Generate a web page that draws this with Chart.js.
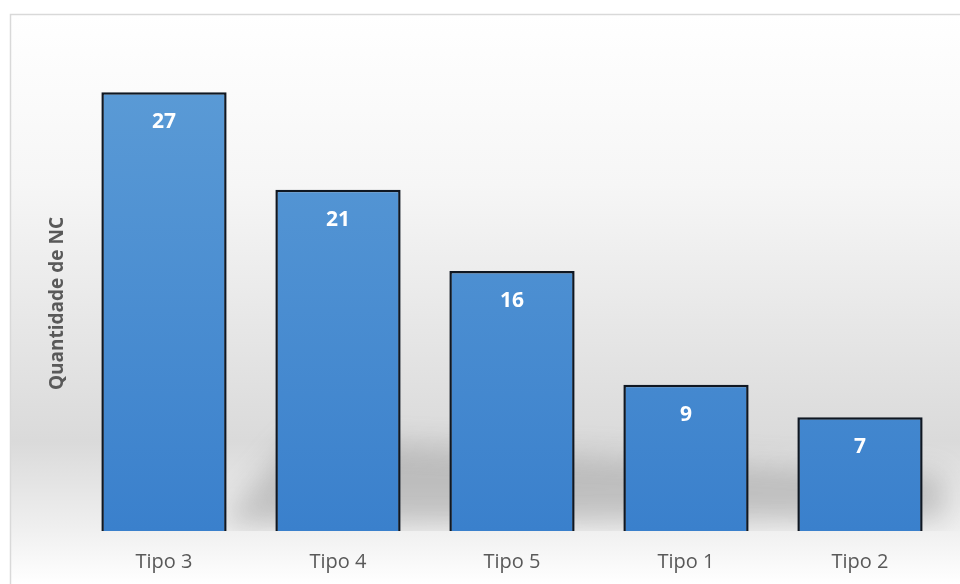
<!DOCTYPE html>
<html>
<head>
<meta charset="utf-8">
<script src="https://cdn.jsdelivr.net/npm/chart.js@4/dist/chart.umd.min.js"></script>
<style>
  html, body { margin: 0; padding: 0; background: #fff; }
  #wrap { width: 960px; height: 584px; }
</style>
</head>
<body>
<div id="wrap"><canvas id="chart"></canvas></div>
<script>
const categories = ["Tipo 3", "Tipo 4", "Tipo 5", "Tipo 1", "Tipo 2"];
const values = [27, 21, 16, 9, 7];
const yTitle = "Quantidade de NC";

const FONT = "'Open Sans', 'DejaVu Sans', sans-serif";

// background panel, border and soft floor shadow
const panel = {
  id: "panel",
  beforeDraw(chart) {
    const ctx = chart.ctx;
    const ca = chart.chartArea;
    ctx.save();
    const g = ctx.createLinearGradient(0, 14, 0, 584);
    g.addColorStop(0, "#ffffff");
    g.addColorStop(0.3, "#f6f6f6");
    g.addColorStop(0.75, "#dadada");
    g.addColorStop(0.9, "#efefef");
    g.addColorStop(1, "#ffffff");
    ctx.fillStyle = g;
    ctx.fillRect(10, 14, 960, 584);

    // floor shadow behind the bars
    ctx.save();
    ctx.beginPath();
    ctx.rect(ca.left, 380, ca.right - ca.left + 20, ca.bottom - 380);
    ctx.clip();
    ctx.filter = "blur(14px)";
    ctx.fillStyle = "rgba(110,110,110,0.32)";
    ctx.beginPath();
    ctx.moveTo(220, ca.bottom - 5);
    ctx.lineTo(295, 440);
    ctx.lineTo(940, 475);
    ctx.lineTo(945, ca.bottom - 12);
    ctx.closePath();
    ctx.fill();
    ctx.restore();

    ctx.strokeStyle = "#d9d9d9";
    ctx.lineWidth = 1.5;
    ctx.strokeRect(10.5, 14.5, 960, 584);
    ctx.restore();
  }
};

const valueLabels = {
  id: "valueLabels",
  afterDatasetsDraw(chart) {
    const ctx = chart.ctx;
    const meta = chart.getDatasetMeta(0);
    ctx.save();
    ctx.fillStyle = "#ffffff";
    ctx.font = "bold 21px " + FONT;
    ctx.textAlign = "center";
    ctx.textBaseline = "middle";
    meta.data.forEach((bar, i) => {
      ctx.fillText(values[i], bar.x, bar.y + 30);
    });
    ctx.restore();
  }
};

function barGradient(context) {
  const chart = context.chart;
  const ca = chart.chartArea;
  if (!ca) return "#4a8bd3";
  const g = chart.ctx.createLinearGradient(0, ca.top, 0, ca.bottom);
  g.addColorStop(0, "#5b9bd6");
  g.addColorStop(1, "#3a80cc");
  return g;
}

new Chart(document.getElementById("chart"), {
  type: "bar",
  data: {
    labels: categories,
    datasets: [{
      data: values,
      backgroundColor: barGradient,
      borderColor: "#0f1722",
      borderWidth: 2.5,
      barPercentage: 0.72,
      categoryPercentage: 1
    }]
  },
  options: {
    responsive: true,
    maintainAspectRatio: false,
    animation: false,
    layout: { padding: { top: 76, right: 13, bottom: 0, left: 46 } },
    plugins: {
      legend: { display: false },
      tooltip: { enabled: false }
    },
    scales: {
      x: {
        grid: { display: false, drawTicks: false },
        border: { display: false },
        ticks: {
          color: "#595959",
          padding: 19,
          font: { family: FONT, size: 20 }
        },
        afterFit(scale) { scale.height = 53; }
      },
      y: {
        min: 0,
        max: 28,
        grid: { display: false, drawTicks: false },
        border: { display: false },
        ticks: { display: false },
        title: {
          display: true,
          text: yTitle,
          color: "#595959",
          font: { family: FONT, size: 19, weight: "bold" },
          padding: 0
        },
        afterFit(scale) { scale.width = 31; }
      }
    }
  },
  plugins: [panel, valueLabels]
});
</script>
</body>
</html>
